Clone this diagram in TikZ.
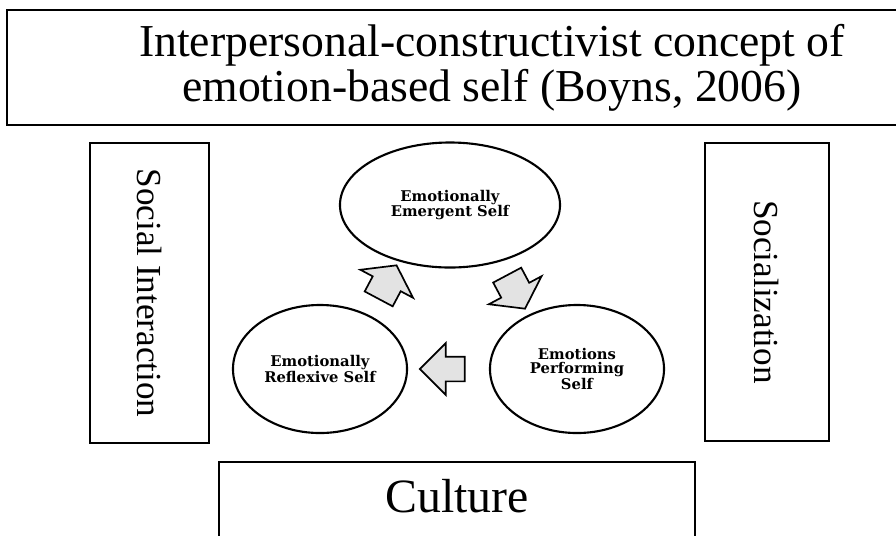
\documentclass[tikz,border=0pt]{standalone}
\usepackage{fontspec}
\setmainfont{Liberation Serif}
\newfontfamily\selffont{DejaVu Serif}
\usetikzlibrary{shapes.geometric,shapes.arrows,calc}

\begin{document}
\begin{tikzpicture}[x=0.025cm,y=-0.025cm,
        outerbox/.style={draw, line width=1.9pt, inner sep=0pt},
        selfnode/.style={draw, ellipse, line width=1.5pt, inner sep=0pt, align=center,
            font=\selffont\bfseries\fontsize{10.5}{10}\selectfont},
        turnarrow/.style={draw, single arrow, fill=gray!22, line width=1.2pt, inner xsep=0pt,
            inner ysep=0.2875cm, minimum height=1.125cm, minimum width=1.25cm,
            single arrow head extend=0.3375cm},
        tiltarrow/.style={turnarrow, inner ysep=0.375cm, minimum height=0.95cm,
            minimum width=1.45cm, single arrow head extend=0.35cm, single arrow tip angle=110}]
            \clip (0,0) rectangle (896,535);

            \node[outerbox, minimum width=24.25cm, minimum height=2.875cm, align=center,
                font=\fontsize{32.5}{32}\selectfont] (concept) at (492,67.5)
                {Interpersonal-constructivist concept of\\emotion-based self (Boyns, 2006)};
            \node[outerbox, rotate=-90, minimum width=7.5cm, minimum height=2.975cm,
                font=\fontsize{25}{30}\selectfont] (interaction) at (149.5,293) {Social Interaction};
            \node[outerbox, rotate=-90, minimum width=7.45cm, minimum height=3.1cm,
                font=\fontsize{25}{30}\selectfont] (socialization) at (767,292) {Socialization};
            \node[outerbox, minimum width=11.9cm, minimum height=2.075cm, text depth=0.4cm,
                font=\fontsize{34}{40}\selectfont] (culture) at (457,503.5) {Culture};

            \node[selfnode, minimum width=5.5cm, minimum height=3.125cm] (emergent) at (450,205) {Emotionally\\Emergent Self};
            \node[selfnode, minimum width=4.35cm, minimum height=3.2cm] (reflexive) at (320,369) {Emotionally\\Reflexive Self};
            \node[selfnode, minimum width=4.35cm, minimum height=3.2cm] (performing) at (577,369) {Emotions\\Performing\\Self};

            \node[tiltarrow, rotate=62] (up) at ($(reflexive)!0.5!(emergent)$) {};
            \node[tiltarrow, rotate=-62] (down) at ($(emergent)!0.5!(performing)$) {};
            \node[turnarrow, rotate=180] (back) at ($(performing)!0.5!(reflexive)$) {};
        \end{tikzpicture}
\end{document}
